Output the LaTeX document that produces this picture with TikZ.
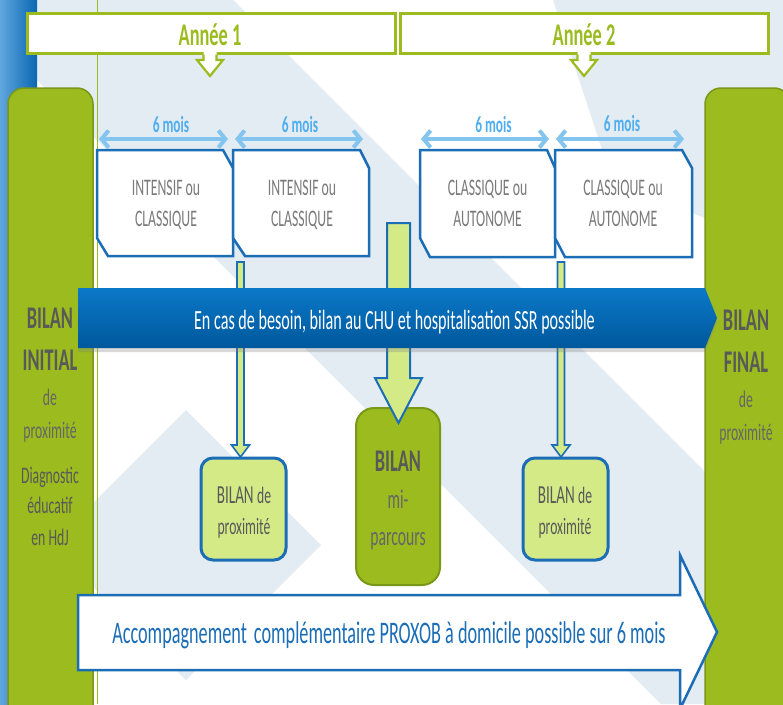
\documentclass[tikz,border=0pt]{standalone}
\usepackage{fontspec}
\setmainfont{Carlito}[FakeStretch=0.58]
\usetikzlibrary{arrows.meta,shadows,calc}
\definecolor{gr}{HTML}{9BBB1F}
\definecolor{grd}{HTML}{7A9818}
\definecolor{grl}{HTML}{D4EA87}
\definecolor{bl}{HTML}{1B6DB5}
\definecolor{wm}{HTML}{E3EBF3}
\definecolor{tg}{HTML}{7A7A7A}
\definecolor{td}{HTML}{595959}
\definecolor{tm}{HTML}{666666}
\definecolor{mo}{HTML}{4FAEEE}
\definecolor{ma}{HTML}{84C5F0}
\definecolor{bt}{HTML}{0A78C8}
\definecolor{bb}{HTML}{00589C}
\definecolor{stripL}{HTML}{5FA6DE}
\definecolor{stripR}{HTML}{0A67B2}
\newcommand\fs[1]{\fontsize{#1pt}{#1pt}\selectfont}
\tikzset{
  lbl/.style={anchor=base, inner sep=0pt, outer sep=0pt},
  yearbox/.style={draw=gr, line width=3pt, fill=white, minimum width=368pt, minimum height=40pt, inner sep=0pt},
  yeartxt/.style={lbl, text=gr, font=\fs{31.6}\bfseries},
  moarrow/.style={draw=ma, line width=4pt, {Straight Barb[length=7pt,width=17pt]}-{Straight Barb[length=7pt,width=17pt]}},
  motxt/.style={lbl, text=mo, font=\fs{23}\bfseries},
  phase/.style={draw=bl, line width=2.5pt, fill=white, line join=miter},
  phasetxt/.style={lbl, text=tg, font=\fs{23.7}},
  bigbox/.style={fill=gr, draw=grd, line width=1.5pt, rounded corners=16pt, minimum width=85pt, minimum height=640pt, inner sep=0pt},
  bigbold/.style={lbl, text=td, font=\fs{31.6}\bfseries},
  bigreg/.style={lbl, text=tm, font=\fs{23.7}},
  bigdark/.style={lbl, text=td, font=\fs{23.7}},
  smallbox/.style={fill=grl, draw=bl, line width=3pt, rounded corners=12pt, minimum width=85pt, minimum height=102pt, inner sep=0pt},
  midbox/.style={fill=gr, draw=grd, line width=2pt, rounded corners=18pt, minimum width=84pt, minimum height=177pt, inner sep=0pt},
  blockarrow/.style={fill=grl, draw=bl, line width=1.6pt, line join=miter},
  banner/.style={top color=bt, bottom color=bb, drop shadow={opacity=0.3, shadow xshift=0pt, shadow yshift=-4pt}},
  acc/.style={draw=bl, fill=white, line width=2.5pt, line join=miter},
}
\begin{document}
\begin{tikzpicture}[x=1pt,y=-1pt]
\useasboundingbox (0,0) rectangle (783,704);
\fill[white] (0,0) rectangle (783,704);
% watermark
\begin{scope}
  \clip (37,0) rectangle (783,704);
  \fill[wm] (-43,0) -- (233,0) -- (937,704) -- (661,704) -- cycle;
  \fill[wm] (553,0) -- (783,0) -- (783,250) -- (612,180) -- cycle;
  \fill[wm] (186,410) -- (321,545) -- (186,680) -- (51,545) -- cycle;
\end{scope}
% left blue strip
\shade[left color=stripL, right color=stripR] (0,0) rectangle (37,704);
% green vertical line
\draw[gr, line width=1.6pt] (97.5,0) -- (97.5,704);
% big green boxes
\node[bigbox] (binit) at (50.5,408) {};
\node[bigbox] (bfinal) at (747.5,408) {};

% year boxes
\node[yearbox] (an1) at (211,33) {};
\node[yearbox] (an2) at (584,33.5) {};
\node[yeartxt] (an1t) at (210,45.5) {Année 1};
\node[yeartxt] (an2t) at (584,45.5) {Année 2};
\foreach \n/\xx in {an1/210,an2/584}{
  \fill[white] (\xx-6.5,50) -- (\xx-6.5,60) -- (\xx-13,60) -- (\xx,76) -- (\xx+13,60) -- (\xx+6.5,60) -- (\xx+6.5,50) -- cycle;
  \draw[gr, line width=2.2pt, line join=miter] (\xx-6.5,54.5) -- (\xx-6.5,60) -- (\xx-13,60) -- (\xx,76) -- (\xx+13,60) -- (\xx+6.5,60) -- (\xx+6.5,54.5);
}

% 6 mois arrows
\coordinate (m1a) at (99,139);  \coordinate (m1b) at (228,139);
\coordinate (m2a) at (235,139); \coordinate (m2b) at (363,139);
\coordinate (m3a) at (421,139); \coordinate (m3b) at (549,139);
\coordinate (m4a) at (556,139); \coordinate (m4b) at (684,139);
\draw[moarrow] (m1a) -- (m1b);
\draw[moarrow] (m2a) -- (m2b);
\draw[moarrow] (m3a) -- (m3b);
\draw[moarrow] (m4a) -- (m4b);
\node[motxt] (mo1) at (171,132.5) {6 mois};
\node[motxt] (mo2) at (300,132.5) {6 mois};
\node[motxt] (mo3) at (493.5,132) {6 mois};
\node[motxt] (mo4) at (622,131) {6 mois};

% phase boxes
\draw[phase] (97,150) -- (223,150) -- (233,168) -- (233,256) -- (108,256) -- (97,238) -- cycle;
\draw[phase] (233,150) -- (360,150) -- (369,168) -- (369,256) -- (245,256) -- (233,238) -- cycle;
\draw[phase] (420,150) -- (547,150) -- (555,168) -- (555,257) -- (430,257) -- (420,238) -- cycle;
\draw[phase] (555,150) -- (682,150) -- (692,168) -- (692,257) -- (565,257) -- (555,238) -- cycle;
\node[phasetxt] (p1a) at (166,195) {INTENSIF ou};
\node[phasetxt] (p1b) at (166,226.7) {CLASSIQUE};
\node[phasetxt] (p2a) at (302,195) {INTENSIF ou};
\node[phasetxt] (p2b) at (302,226.7) {CLASSIQUE};
\node[phasetxt] (p3a) at (487.5,195) {CLASSIQUE ou};
\node[phasetxt] (p3b) at (487.5,226.7) {AUTONOME};
\node[phasetxt] (p4a) at (623,195) {CLASSIQUE ou};
\node[phasetxt] (p4b) at (623,226.7) {AUTONOME};

% small bilan boxes and mid box
\node[smallbox] (bl1) at (243.5,509) {};
\node[smallbox] (bl2) at (565.5,509) {};
\node[midbox] (mid) at (398,496.5) {};

% thin arrows
\draw[blockarrow] (237,262) -- (244,262) -- (244,445) -- (249.5,445) -- (240.5,457) -- (231.5,445) -- (237,445) -- cycle;
\draw[blockarrow] (557.5,262) -- (564.5,262) -- (564.5,445) -- (570,445) -- (561,457) -- (552,445) -- (557.5,445) -- cycle;
% thick arrow
\draw[blockarrow, line width=2pt] (387,223) -- (410,223) -- (410,378) -- (422,378) -- (398.5,423) -- (375,378) -- (387,378) -- cycle;

% banner
\path[banner] (78,288) -- (705,288) -- (717,318) -- (705,348) -- (78,348) -- cycle;
\node[lbl, text=white, font=\fs{27.8}] (bant) at (394.5,329.3) {En cas de besoin, bilan au CHU et hospitalisation SSR possible};

% texts in small boxes
\node[lbl, text=td, font=\fs{26}] (bl1a) at (244,503.3) {BILAN {\fs{23.5}de}};
\node[lbl, text=td, font=\fs{23.5}] (bl1b) at (244,534) {proximité};
\node[lbl, text=td, font=\fs{26}] (bl2a) at (565,503.3) {BILAN {\fs{23.5}de}};
\node[lbl, text=td, font=\fs{23.5}] (bl2b) at (565,534) {proximité};
% mid box texts
\node[bigbold] (mida) at (398,471) {BILAN};
\node[lbl, text=tm, font=\fs{27}] (midb) at (398,508) {mi-};
\node[lbl, text=tm, font=\fs{27}] (midc) at (398,545) {parcours};

% left box texts
\node[bigbold] (li1) at (50,328.3) {BILAN};
\node[bigbold] (li2) at (50,370) {INITIAL};
\node[bigreg] (li3) at (50,405) {de};
\node[bigreg] (li4) at (50,438) {proximité};
\node[bigdark] (li5) at (50,483) {Diagnostic};
\node[bigdark] (li6) at (50,513) {éducatif};
\node[bigdark] (li7) at (50,545) {en HdJ};
% right box texts
\node[bigbold] (rf1) at (746,330) {BILAN};
\node[bigbold] (rf2) at (746,372) {FINAL};
\node[bigreg] (rf3) at (746,407) {de};
\node[bigreg] (rf4) at (746,440) {proximité};

% accompagnement arrow
\draw[acc] (78,595) -- (680,595) -- (680,555) -- (717,632) -- (680,709) -- (680,670) -- (78,670) -- cycle;
\node[lbl, text=bl, font=\fs{31.4}] (acct) at (389,643.5) {Accompagnement\hspace{3pt} complémentaire PROXOB à domicile possible sur 6 mois};
\end{tikzpicture}
\end{document}
